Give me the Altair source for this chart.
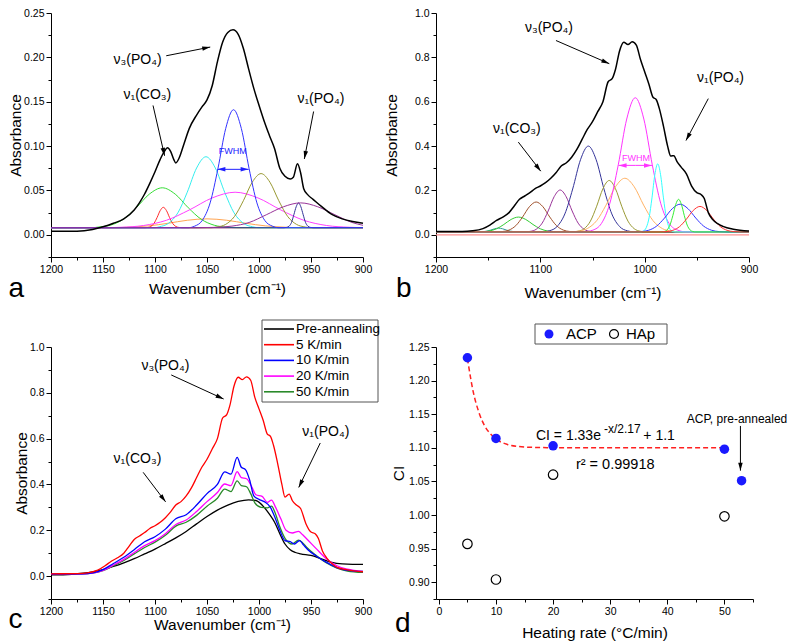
import math
import altair as alt
import pandas as pd

FONT = "Liberation Sans"
HEAD = "M0,0 L0.45,1.6 L-0.45,1.6 Z"

# ---------------- panel a : fitted spectrum (wavenumber, absorbance) ----------------
A_TOTAL = [(1200, 0.004), (1175, 0.004), (1160, 0.006), (1150, 0.009), (1140, 0.013), (1130, 0.018),
           (1120, 0.028), (1115, 0.036), (1110, 0.046), (1105, 0.058), (1100, 0.071), (1095, 0.085),
           (1091, 0.094), (1088, 0.098), (1085, 0.094), (1082, 0.085), (1080, 0.081), (1077, 0.086),
           (1072, 0.103), (1067, 0.120), (1060, 0.135), (1055, 0.144), (1050, 0.152), (1045, 0.168),
           (1040, 0.195), (1035, 0.217), (1030, 0.228), (1025, 0.231), (1020, 0.226), (1015, 0.210),
           (1010, 0.187), (1005, 0.165), (1000, 0.146), (995, 0.128), (990, 0.112), (985, 0.097),
           (980, 0.075), (975, 0.066), (970, 0.063), (967, 0.065), (963, 0.080), (960, 0.070),
           (957, 0.052), (953, 0.045), (948, 0.040), (940, 0.032), (930, 0.023), (920, 0.018),
           (910, 0.015), (900, 0.013)]
A_GREEN = [(1200, 0.008), (1160, 0.008), (1155.5, 0.0086), (1143, 0.0108), (1130.5, 0.0175), (1118, 0.0305),
           (1105.5, 0.0458), (1093, 0.053), (1080.5, 0.0458), (1068, 0.0305), (1055.5, 0.0175),
           (1043, 0.0108), (1030.5, 0.0086), (1020, 0.008), (900, 0.008)]
A_RED = [(1200, 0.008), (1110, 0.008), (1107, 0.0083), (1104, 0.0094), (1101, 0.0128), (1098, 0.0195),
         (1095, 0.0273), (1092, 0.031), (1089, 0.0273), (1086, 0.0195), (1083, 0.0128), (1080, 0.0094),
         (1077, 0.0083), (1074, 0.008), (900, 0.008)]
A_CYAN = [(1200, 0.008), (1100, 0.008), (1096, 0.009), (1087, 0.013), (1078, 0.0248), (1069, 0.048),
          (1060, 0.0753), (1051, 0.088), (1042, 0.0753), (1033, 0.048), (1024, 0.0248), (1015, 0.013),
          (1006, 0.009), (1000, 0.008), (900, 0.008)]
A_BLUE = [(1200, 0.008), (1068, 0.008), (1062, 0.0097), (1054.5, 0.0163), (1047, 0.036), (1039.5, 0.0745),
          (1032, 0.1199), (1024.5, 0.141), (1017, 0.1199), (1009.5, 0.0745), (1002, 0.036),
          (994.5, 0.0163), (987, 0.0097), (981, 0.008), (900, 0.008)]
A_MAGENTA = [(1200, 0.008), (1150, 0.008), (1133, 0.0085), (1111, 0.0105), (1089, 0.0164), (1067, 0.028),
             (1045, 0.0416), (1023, 0.048), (1001, 0.0416), (979, 0.028), (957, 0.0164), (935, 0.0105),
             (913, 0.0085), (900, 0.008)]
A_ORANGE = [(1200, 0.008), (1140, 0.008), (1125, 0.0086), (1106, 0.0101), (1087.5, 0.013), (1069, 0.0164),
            (1050, 0.018), (1031, 0.0164), (1012.5, 0.013), (994, 0.0101), (975, 0.0086), (960, 0.008),
            (900, 0.008)]
A_OLIVE = [(1200, 0.008), (1046, 0.008), (1040.5, 0.0088), (1032, 0.0118), (1023.5, 0.0208), (1015, 0.0385),
           (1006.5, 0.0593), (998, 0.069), (989.5, 0.0593), (981, 0.0385), (972.5, 0.0208), (964, 0.0118),
           (955.5, 0.0088), (950, 0.008), (900, 0.008)]
A_PURPLE = [(1200, 0.008), (1060, 0.008), (1042.5, 0.0084), (1026, 0.0098), (1009.5, 0.0139), (993, 0.0226),
            (976.5, 0.0316), (960, 0.036), (943.5, 0.0316), (927, 0.0226), (910.5, 0.0139), (900, 0.0107)]
A_NAVY = [(1200, 0.008), (976, 0.008), (973.25, 0.0084), (971, 0.0098), (968.75, 0.0139), (966.5, 0.0226),
          (964.25, 0.0316), (962, 0.036), (959.75, 0.0316), (957.5, 0.0226), (955.25, 0.0139),
          (953, 0.0098), (950.75, 0.0084), (948, 0.008), (900, 0.008)]

# ---------------- panel b : fitted spectrum ----------------
B_TOTAL = [(1200, 0.015), (1175, 0.015), (1165, 0.018), (1155, 0.028), (1148, 0.045), (1142, 0.065),
           (1136, 0.080), (1130, 0.100), (1125, 0.130), (1120, 0.160), (1115, 0.175), (1110, 0.190),
           (1105, 0.208), (1100, 0.220), (1095, 0.235), (1090, 0.255), (1085, 0.280), (1080, 0.310),
           (1075, 0.325), (1070, 0.350), (1065, 0.385), (1060, 0.430), (1055, 0.475), (1050, 0.510),
           (1045, 0.555), (1040, 0.600), (1035, 0.690), (1031, 0.705), (1028, 0.745), (1024, 0.830),
           (1020, 0.868), (1016, 0.858), (1012, 0.870), (1008, 0.855), (1004, 0.790), (1000, 0.735),
           (996, 0.680), (992, 0.620), (989, 0.610), (986, 0.570), (982, 0.490), (978, 0.400),
           (975, 0.355), (972, 0.357), (969, 0.330), (965, 0.305), (960, 0.275), (955, 0.220),
           (950, 0.190), (946, 0.182), (943, 0.165), (939, 0.100), (935, 0.070), (930, 0.050),
           (925, 0.038), (915, 0.025), (900, 0.017)]
B_TEAL = [(1200, 0.013), (1162, 0.013), (1158.75, 0.0132), (1155, 0.0141), (1151.25, 0.0166), (1147.5, 0.0215),
          (1143.75, 0.0273), (1140, 0.030), (1136.25, 0.0273), (1132.5, 0.0215), (1128.75, 0.0166),
          (1125, 0.0141), (1121.25, 0.0132), (1118, 0.013), (900, 0.013)]
B_GREEN = [(1200, 0.013), (1162, 0.013), (1156, 0.0139), (1149, 0.0172), (1142, 0.0271), (1135, 0.0465),
           (1128, 0.0693), (1121, 0.080), (1114, 0.0693), (1107, 0.0465), (1100, 0.0271), (1093, 0.0172),
           (1086, 0.0139), (1080, 0.013), (900, 0.013)]
B_BROWN = [(1200, 0.013), (1143, 0.013), (1136.5, 0.0148), (1130, 0.0214), (1123.5, 0.0414), (1117, 0.0805),
           (1110.5, 0.1265), (1104, 0.148), (1097.5, 0.1265), (1091, 0.0805), (1084.5, 0.0414),
           (1078, 0.0214), (1071.5, 0.0148), (1065, 0.013), (900, 0.013)]
B_PURPLE = [(1200, 0.013), (1116, 0.013), (1109.75, 0.0155), (1104, 0.0248), (1098.25, 0.0527), (1092.5, 0.1075),
            (1086.75, 0.172), (1081, 0.202), (1075.25, 0.172), (1069.5, 0.1075), (1063.75, 0.0527),
            (1058, 0.0248), (1052.25, 0.0155), (1046, 0.013), (900, 0.013)]
B_NAVY = [(1200, 0.013), (1099, 0.013), (1091.5, 0.018), (1084, 0.0372), (1076.5, 0.0943), (1069, 0.2065),
          (1061.5, 0.3385), (1054, 0.40), (1046.5, 0.3385), (1039, 0.2065), (1031.5, 0.0943),
          (1024, 0.0372), (1016.5, 0.018), (1009, 0.013), (900, 0.013)]
B_OLIVE = [(1200, 0.013), (1070, 0.013), (1064, 0.016), (1058, 0.0275), (1052, 0.0617), (1046, 0.129),
           (1040, 0.208), (1034, 0.245), (1028, 0.208), (1022, 0.129), (1016, 0.0617), (1010, 0.0275),
           (1004, 0.016), (998, 0.013), (900, 0.013)]
B_ORANGE = [(1200, 0.013), (1073, 0.013), (1064, 0.0161), (1055, 0.0281), (1046, 0.0638), (1037, 0.134),
            (1028, 0.2165), (1019, 0.255), (1010, 0.2165), (1001, 0.134), (992, 0.0638), (983, 0.0281),
            (974, 0.0161), (965, 0.013), (900, 0.013)]
B_MAGENTA = [(1200, 0.013), (1058, 0.013), (1049.75, 0.0209), (1041.5, 0.0508), (1033.5, 0.140),
             (1025.3, 0.3155), (1017.2, 0.522), (1009, 0.618), (1000.8, 0.522), (992.7, 0.3155),
             (984.5, 0.140), (976.5, 0.0508), (968.2, 0.0209), (960, 0.013), (900, 0.013)]
B_CYAN = [(1200, 0.013), (1004, 0.013), (1001.25, 0.017), (998.5, 0.0322), (995.75, 0.0775), (993, 0.1665),
          (990.25, 0.271), (987.5, 0.32), (984.75, 0.271), (982, 0.1665), (979.25, 0.0775),
          (976.5, 0.0322), (973.75, 0.017), (971, 0.013), (900, 0.013)]
B_GREEN2 = [(1200, 0.013), (984, 0.013), (981.25, 0.0149), (978.5, 0.0222), (975.75, 0.0439), (973, 0.0865),
            (970.25, 0.1366), (967.5, 0.16), (964.75, 0.1366), (962, 0.0865), (959.25, 0.0439),
            (956.5, 0.0222), (953.75, 0.0149), (951, 0.013), (900, 0.013)]
B_BLUE = [(1200, 0.013), (1011, 0.013), (1003.5, 0.0146), (996, 0.0208), (988.5, 0.0393), (981, 0.0755),
          (973.5, 0.118), (966, 0.138), (958.5, 0.118), (951, 0.0755), (943.5, 0.0393), (936, 0.0208),
          (928.5, 0.0146), (921, 0.013), (900, 0.013)]
B_RED = [(1200, 0.013), (986, 0.013), (979.5, 0.0145), (973, 0.0202), (966.5, 0.0372), (960, 0.0705),
         (953.5, 0.1097), (947, 0.128), (940.5, 0.1097), (934, 0.0705), (927.5, 0.0372), (921, 0.0202),
         (914.5, 0.0145), (908, 0.013), (900, 0.013)]
B_ZERO = [(1200, 0.0), (900, 0.0)]

# ---------------- panel c : spectra vs heating rate ----------------
C_LABELS = ["Pre-annealing", "5 K/min", "10 K/min", "20 K/min", "50 K/min"]
C_COLORS = ["#000000", "#ff0000", "#0000ff", "#ff00ff", "#2a8a2a"]
C_PRE = [(1200, 0.005), (1180, 0.008), (1160, 0.018), (1150, 0.028), (1140, 0.042), (1130, 0.058),
         (1120, 0.076), (1110, 0.097), (1100, 0.118), (1090, 0.142), (1080, 0.167), (1070, 0.195),
         (1060, 0.228), (1050, 0.260), (1040, 0.288), (1030, 0.310), (1020, 0.326), (1010, 0.333),
         (1003, 0.330), (995, 0.300), (990, 0.270), (985, 0.235), (980, 0.185), (975, 0.140),
         (970, 0.115), (965, 0.103), (960, 0.097), (950, 0.090), (940, 0.075), (930, 0.060),
         (920, 0.053), (910, 0.051), (900, 0.051)]
C_5K = [(1200, 0.010), (1175, 0.011), (1165, 0.014), (1155, 0.026), (1148, 0.045), (1142, 0.065),
        (1136, 0.080), (1130, 0.100), (1125, 0.130), (1120, 0.160), (1115, 0.175), (1110, 0.190),
        (1105, 0.208), (1100, 0.220), (1095, 0.235), (1090, 0.255), (1085, 0.280), (1080, 0.310),
        (1075, 0.325), (1070, 0.350), (1065, 0.385), (1060, 0.430), (1055, 0.475), (1050, 0.510),
        (1045, 0.555), (1040, 0.600), (1035, 0.690), (1031, 0.705), (1028, 0.745), (1024, 0.830),
        (1020, 0.868), (1016, 0.858), (1012, 0.870), (1008, 0.855), (1004, 0.780), (1000, 0.730),
        (996, 0.680), (992, 0.620), (989, 0.610), (986, 0.570), (982, 0.490), (978, 0.400),
        (975, 0.345), (971, 0.358), (968, 0.330), (964, 0.310), (960, 0.295), (955, 0.230),
        (950, 0.192), (946, 0.185), (943, 0.165), (939, 0.110), (935, 0.080), (930, 0.055),
        (925, 0.038), (915, 0.027), (900, 0.019)]
C_10K = [(1200, 0.009), (1170, 0.010), (1160, 0.014), (1150, 0.028), (1140, 0.055), (1130, 0.082),
         (1120, 0.115), (1110, 0.150), (1100, 0.172), (1090, 0.205), (1080, 0.250), (1070, 0.268),
         (1060, 0.310), (1050, 0.360), (1040, 0.400), (1033, 0.455), (1027, 0.445), (1021, 0.518),
         (1017, 0.475), (1013, 0.465), (1009, 0.420), (1005, 0.350), (1000, 0.335), (995, 0.325),
         (989, 0.300), (985, 0.260), (980, 0.200), (975, 0.155), (970, 0.150), (966, 0.140),
         (961, 0.155), (957, 0.135), (953, 0.115), (945, 0.088), (935, 0.060), (925, 0.037),
         (915, 0.025), (900, 0.020)]
C_20K = [(1200, 0.009), (1170, 0.010), (1160, 0.013), (1150, 0.025), (1140, 0.048), (1130, 0.073),
         (1120, 0.103), (1110, 0.133), (1100, 0.155), (1090, 0.185), (1080, 0.225), (1070, 0.245),
         (1060, 0.282), (1050, 0.325), (1040, 0.365), (1033, 0.402), (1027, 0.395), (1021, 0.456),
         (1017, 0.430), (1012, 0.425), (1007, 0.390), (1003, 0.355), (997, 0.348), (992, 0.322),
         (988, 0.332), (984, 0.300), (979, 0.250), (974, 0.200), (968, 0.188), (962, 0.195),
         (958, 0.180), (954, 0.162), (945, 0.120), (935, 0.075), (925, 0.045), (915, 0.030),
         (900, 0.021)]
C_50K = [(1200, 0.009), (1170, 0.010), (1160, 0.013), (1150, 0.024), (1140, 0.045), (1130, 0.068),
         (1120, 0.097), (1110, 0.125), (1100, 0.148), (1090, 0.178), (1080, 0.218), (1070, 0.235),
         (1060, 0.265), (1050, 0.305), (1040, 0.340), (1033, 0.380), (1027, 0.369), (1021, 0.416),
         (1017, 0.395), (1012, 0.390), (1008, 0.360), (1004, 0.320), (998, 0.300), (992, 0.298),
         (988, 0.305), (984, 0.270), (980, 0.215), (975, 0.165), (968, 0.140), (962, 0.157),
         (958, 0.145), (954, 0.125), (945, 0.090), (935, 0.057), (925, 0.035), (915, 0.022),
         (900, 0.016)]

# ---------------- panel d : crystallinity index ----------------
D_ACP_X = [5, 10, 20, 50, 53]
D_ACP_Y = [1.234, 1.114, 1.103, 1.098, 1.051]
D_HAP_X = [5, 10, 20, 50]
D_HAP_Y = [0.957, 0.904, 1.060, 0.998]
D_FIT_X = [5, 6, 7, 8, 9, 10, 12, 14, 17, 20, 30, 40, 50]
D_FIT_Y = [1.233, 1.184, 1.153, 1.133, 1.121, 1.113, 1.105, 1.102, 1.1005, 1.1002, 1.1, 1.1, 1.1]


def make_axis(title, values, test, fmt, tpad, title_x=None):
    kw = dict(
        title=title, values=values, format=fmt,
        labelExpr=f"({test}) ? datum.label : ''",
        tickSize={"condition": {"test": test, "value": 5}, "value": 3},
        grid=False, labelFlush=False, labelOverlap=False,
        domainColor="black", tickColor="black", labelColor="black", titleColor="black",
        labelFont=FONT, titleFont=FONT, labelFontSize=10.5, titleFontSize=15.5,
        titleFontWeight="normal", titlePadding=tpad, labelPadding=2,
        domainWidth=1, tickWidth=1,
    )
    if title_x is not None:
        kw["titleX"] = title_x
    return alt.Axis(**kw)


class Panel:
    def __init__(self, xdom, ydom, w, h, xrev, xaxis, yaxis):
        self.xdom, self.ydom, self.w, self.h, self.xrev = xdom, ydom, w, h, xrev
        self.xaxis, self.yaxis = xaxis, yaxis
        self.layers = []

    def X(self):
        return alt.X("x:Q", scale=alt.Scale(domain=self.xdom, reverse=self.xrev, nice=False, zero=False),
                     axis=self.xaxis)

    def Y(self):
        return alt.Y("y:Q", scale=alt.Scale(domain=self.ydom, nice=False, zero=False), axis=self.yaxis)

    def line(self, pts, color, width=1.0, dash=None):
        kw = dict(color=color, strokeWidth=width, interpolate="monotone")
        if dash:
            kw["strokeDash"] = dash
        df = pd.DataFrame(pts, columns=["x", "y"])
        self.layers.append(alt.Chart(df).mark_line(**kw).encode(x=self.X(), y=self.Y()))

    def points(self, xs, ys, filled, color, size=90):
        df = pd.DataFrame({"x": xs, "y": ys})
        kw = dict(filled=filled, color=color, size=size, opacity=1)
        if not filled:
            kw["strokeWidth"] = 1.2
        self.layers.append(alt.Chart(df).mark_point(**kw).encode(x=self.X(), y=self.Y()))

    def text(self, x, y, s, size=14, color="black", align="left"):
        df = pd.DataFrame({"x": [x], "y": [y], "t": [s]})
        self.layers.append(alt.Chart(df).mark_text(font=FONT, fontSize=size, color=color, align=align,
                                                   baseline="middle").encode(x=self.X(), y=self.Y(), text="t:N"))

    def arrow(self, x1, y1, x2, y2, color="black"):
        df = pd.DataFrame({"x": [x1], "y": [y1], "x2": [x2], "y2": [y2]})
        self.layers.append(alt.Chart(df).mark_rule(color=color, strokeWidth=1).encode(
            x=self.X(), y=self.Y(), x2="x2:Q", y2="y2:Q"))
        sx = self.w / (self.xdom[1] - self.xdom[0]) * (-1 if self.xrev else 1)
        sy = -self.h / (self.ydom[1] - self.ydom[0])
        dx, dy = (x2 - x1) * sx, (y2 - y1) * sy
        ang = (math.degrees(math.atan2(dx, -dy)) + 360) % 360
        hd = pd.DataFrame({"x": [x2], "y": [y2]})
        self.layers.append(alt.Chart(hd).mark_point(shape=HEAD, filled=True, size=100, color=color,
                                                    angle=round(ang, 2), strokeWidth=0, opacity=1)
                           .encode(x=self.X(), y=self.Y()))

    def ptext(self, px, py, s, size, align="left", baseline="middle", color="black"):
        self.layers.append(alt.Chart(pd.DataFrame({"k": [0]})).mark_text(
            text=s, font=FONT, fontSize=size, align=align, baseline=baseline, color=color)
            .encode(x=alt.value(px), y=alt.value(py)))

    def prule(self, x1, x2, py, color, width=1.5):
        self.layers.append(alt.Chart(pd.DataFrame({"k": [0]})).mark_rule(color=color, strokeWidth=width)
                           .encode(x=alt.value(x1), x2=alt.value(x2), y=alt.value(py)))

    def pbox(self, x1, x2, y1, y2):
        self.layers.append(alt.Chart(pd.DataFrame({"k": [0]})).mark_rect(fill="white", stroke="#555555",
                                                                         strokeWidth=1)
                           .encode(x=alt.value(x1), x2=alt.value(x2), y=alt.value(y1), y2=alt.value(y2)))

    def ppoint(self, px, py, filled, color):
        kw = dict(filled=filled, color=color, size=80, opacity=1)
        if not filled:
            kw["strokeWidth"] = 1.2
        self.layers.append(alt.Chart(pd.DataFrame({"k": [0]})).mark_point(**kw)
                           .encode(x=alt.value(px), y=alt.value(py)))

    def chart(self):
        return alt.layer(*self.layers).properties(width=self.w, height=self.h)


WN25 = list(range(900, 1201, 25))
WN50 = list(range(900, 1201, 50))
Y_A = [round(-0.025 + 0.025 * k, 3) for k in range(12)]
Y_BC = [round(-0.1 + 0.1 * k, 2) for k in range(12)]
X_D = list(range(0, 56, 5))
Y_D = [round(0.875 + 0.025 * k, 3) for k in range(16)]

T_SUB = "abs(round(datum.value*1000)) % 50 == 0"
T_TENTH = "abs(round(datum.value*10)) % 2 == 0"

# ---------- panel a ----------
pa = Panel([900, 1200], [-0.025, 0.25], 312, 244, True,
           make_axis("Wavenumber  (cm⁻¹)", WN25, "datum.value % 50 == 0", "d", 7, title_x=166),
           make_axis("Absorbance", Y_A, T_SUB, ".2f", 0))
for pts, col in [(A_ORANGE, "#ffa552"), (A_RED, "#ff2a2a"), (A_GREEN, "#33dd33"), (A_CYAN, "#33eeee"),
                 (A_MAGENTA, "#ff40ff"), (A_OLIVE, "#999933"), (A_NAVY, "#333399"), (A_BLUE, "#3333ff"),
                 (A_PURPLE, "#993399")]:
    pa.line(pts, col, 1.0)
pa.line(A_TOTAL, "black", 1.5)
pa.text(1139.8, 0.197, "ν₃(PO₄)")
pa.arrow(1089.2, 0.2018, 1046.9, 0.2116)
pa.text(1130.3, 0.158, "ν₁(CO₃)")
pa.arrow(1101.9, 0.1458, 1090.8, 0.0891)
pa.text(963.1, 0.1535, "ν₁(PO₄)")
pa.arrow(947.5, 0.139, 956.4, 0.0855)
pa.text(1025.2, 0.094, "FWHM", size=9, color="#2020ff", align="center")
pa.arrow(1025, 0.0738, 1040, 0.0738, "#2020ff")
pa.arrow(1025, 0.0738, 1010, 0.0738, "#2020ff")
pa.ptext(-42.5, 283.5, "a", 28, baseline="alphabetic")

# ---------- panel b ----------
pb = Panel([900, 1200], [-0.1, 1.0], 313, 244, True,
           make_axis("Wavenumber (cm⁻¹)", WN50, "datum.value % 100 == 0", "d", 11),
           make_axis("Absorbance", Y_BC, T_TENTH, ".1f", 15))
pb.line(B_ZERO, "#ff9090", 1.2)
for pts, col in [(B_TEAL, "#339999"), (B_GREEN, "#33cc33"), (B_BROWN, "#a0522d"), (B_PURPLE, "#993399"),
                 (B_NAVY, "#333399"), (B_OLIVE, "#999933"), (B_ORANGE, "#ffb366"), (B_MAGENTA, "#ff33ff"),
                 (B_CYAN, "#33ffff"), (B_BLUE, "#3333ff"), (B_GREEN2, "#33ee33"), (B_RED, "#ff3333")]:
    pb.line(pts, col, 1.0)
pb.line(B_TOTAL, "black", 1.5)
pb.text(1114.7, 0.9345, "ν₃(PO₄)")
pb.arrow(1085, 0.876, 1033.9, 0.7716)
pb.text(1145.4, 0.476, "ν₁(CO₃)")
pb.arrow(1121.1, 0.418, 1099.6, 0.287)
pb.text(949.8, 0.7074, "ν₁(PO₄)")
pb.arrow(939, 0.614, 960.4, 0.425)
pb.text(1008.3, 0.345, "FWHM", size=9, color="#ff33ff", align="center")
pb.arrow(1009, 0.313, 1025, 0.313, "#ff33ff")
pb.arrow(1009, 0.313, 993, 0.313, "#ff33ff")
pb.ptext(-40, 283.5, "b", 28, baseline="alphabetic")

# ---------- panel c ----------
pc = Panel([900, 1200], [-0.1, 1.0], 312, 252, True,
           make_axis("Wavenumber (cm⁻¹)", WN25, "datum.value % 50 == 0", "d", 1, title_x=171),
           make_axis("Absorbance", Y_BC, T_TENTH, ".1f", 0))
for pts, col in zip([C_PRE, C_50K, C_20K, C_10K, C_5K],
                    [C_COLORS[0], C_COLORS[4], C_COLORS[3], C_COLORS[2], C_COLORS[1]]):
    pc.line(pts, col, 1.3)
pc.text(1113.1, 0.917, "ν₃(PO₄)")
pc.arrow(1084.4, 0.878, 1034, 0.773)
pc.text(1139.8, 0.511, "ν₁(CO₃)")
pc.arrow(1111.4, 0.453, 1089.8, 0.324)
pc.text(958.3, 0.629, "ν₁(PO₄)")
pc.arrow(941.1, 0.581, 961.8, 0.387)
pc.pbox(211, 327, -27, 55)
for i, (lab, col) in enumerate(zip(C_LABELS, C_COLORS)):
    yy = -18 + 15.7 * i
    pc.prule(213, 243, yy, col, 1.6)
    pc.ptext(245, yy, lab, 13.5)
pc.ptext(-42.5, 281.3, "c", 28, baseline="alphabetic")

# ---------- panel d ----------
pd_ = Panel([-0.5, 55], [0.875, 1.25], 317, 252, False,
            make_axis("Heating rate (°C/min)", X_D, "datum.value % 10 == 0", "d", 9),
            make_axis("CI", Y_D, T_SUB, ".2f", 2))
pd_.line(list(zip(D_FIT_X, D_FIT_Y)), "#ff2020", 1.5, dash=[5, 3])
pd_.points(D_ACP_X, D_ACP_Y, True, "#1a1aff")
pd_.points(D_HAP_X, D_HAP_Y, False, "black")
pd_.text(17.0, 1.1175, "CI = 1.33e", size=14)
pd_.text(28.9, 1.1285, "-x/2.17", size=12)
pd_.text(35.8, 1.1175, "+ 1.1", size=14)
pd_.text(24.0, 1.0743, "r² = 0.99918", size=14.5)
pd_.text(43.4, 1.143, "ACP, pre-annealed", size=12)
pd_.arrow(52.8, 1.1325, 52.8, 1.066)
pd_.pbox(99, 231, -23, -3)
pd_.ppoint(113, -13, True, "#1a1aff")
pd_.ptext(130, -13, "ACP", 15)
pd_.ppoint(178, -13, False, "black")
pd_.ptext(190, -13, "HAp", 15)
pd_.ptext(-41, 284.7, "d", 28, baseline="alphabetic")

chart = alt.concat(pa.chart(), pb.chart(), pc.chart(), pd_.chart(), columns=2,
                   spacing={"row": 90, "column": 73}, bounds="flush").properties(
    padding=0).configure_view(stroke=None)

chart.save("out.html", embed_options={"renderer": "svg", "actions": False})
